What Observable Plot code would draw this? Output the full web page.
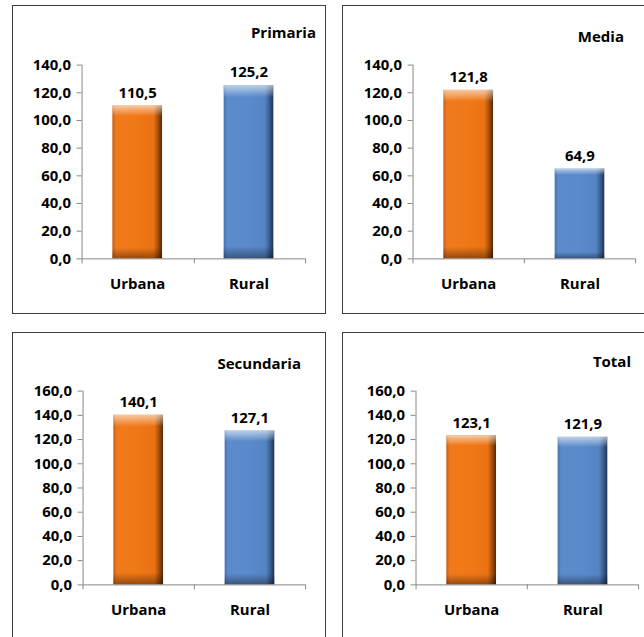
<!DOCTYPE html>
<html>
<head>
<meta charset="utf-8">
<script src="https://cdn.jsdelivr.net/npm/d3@7"></script>
<script src="https://cdn.jsdelivr.net/npm/@observablehq/plot@0.6"></script>
<style>
  html, body { margin: 0; padding: 0; background: #fff; }
  body { width: 644px; height: 637px; overflow: hidden; position: relative; font-family: "Open Sans", sans-serif; }
  .panel { position: absolute; box-sizing: border-box; border: 1px solid #3c3c3c; background: #fff; width: 314px; height: 309px; overflow: visible; }
  .panel svg.plot { position: absolute; left: -1px; top: -1px; }
  .title { position: absolute; font-weight: 700; font-size: 15px; line-height: 20px; color: #000; white-space: nowrap; }
</style>
</head>
<body>
<svg width="0" height="0" style="position:absolute">
  <defs>
    <linearGradient id="gO" x1="0" y1="0" x2="1" y2="0">
      <stop offset="0" stop-color="#c65e10"/>
      <stop offset="0.07" stop-color="#f07a1c"/>
      <stop offset="0.5" stop-color="#f07716"/>
      <stop offset="0.83" stop-color="#ea7212"/>
      <stop offset="0.92" stop-color="#a44e0b"/>
      <stop offset="1" stop-color="#552805"/>
    </linearGradient>
    <linearGradient id="gB" x1="0" y1="0" x2="1" y2="0">
      <stop offset="0" stop-color="#4674b0"/>
      <stop offset="0.07" stop-color="#5b8bcb"/>
      <stop offset="0.5" stop-color="#5a8acb"/>
      <stop offset="0.83" stop-color="#5584c3"/>
      <stop offset="0.92" stop-color="#3a5e8f"/>
      <stop offset="1" stop-color="#1d3253"/>
    </linearGradient>
    <linearGradient id="gV" x1="0" y1="0" x2="0" y2="1">
      <stop offset="0" stop-color="#ffffff" stop-opacity="0.6"/>
      <stop offset="0.035" stop-color="#ffffff" stop-opacity="0.3"/>
      <stop offset="0.07" stop-color="#ffffff" stop-opacity="0"/>
      <stop offset="0.93" stop-color="#000000" stop-opacity="0"/>
      <stop offset="1" stop-color="#000000" stop-opacity="0.38"/>
    </linearGradient>
  </defs>
</svg>
<script>
// ---- data ----
const panelTitles = ["Primaria", "Media", "Secundaria", "Total"];
const categories = ["Urbana", "Rural"];
const urbanaValues = [110.5, 121.8, 140.1, 123.1];
const ruralValues = [125.2, 64.9, 127.1, 121.9];
const yMaxValues = [140, 140, 160, 160];
const yTickStep = 20;

// ---- layout (positions only) ----
const layout = [
  {left: 12,  top: 5,   ml: 70, mr: 19, mt: 60, mb: 54, titleRight: 9,  titleTop: 16},
  {left: 342, top: 5,   ml: 71, mr: 19, mt: 60, mb: 54, titleRight: 31, titleTop: 20},
  {left: 12,  top: 332, ml: 71, mr: 19, mt: 59, mb: 55, titleRight: 24, titleTop: 20},
  {left: 342, top: 332, ml: 74, mr: 16, mt: 59, mb: 55, titleRight: 24, titleTop: 18}
];

const fmt = v => v.toFixed(1).replace(".", ",");
const FONT = '"Open Sans", sans-serif';
const AXIS = "#868686";

panelTitles.forEach((title, i) => {
  const L = layout[i];
  const data = categories.map((c, j) => ({cat: c, value: j === 0 ? urbanaValues[i] : ruralValues[i]}));
  const div = document.createElement("div");
  div.className = "panel";
  div.style.left = L.left + "px";
  div.style.top = L.top + "px";
  document.body.appendChild(div);

  const chart = Plot.plot({
    width: 314,
    height: 309,
    marginLeft: L.ml, marginRight: L.mr, marginTop: L.mt, marginBottom: L.mb,
    style: {fontFamily: FONT, fontSize: "15px", fontWeight: "700", color: "#000", background: "transparent", overflow: "visible"},
    x: {domain: categories, paddingInner: 0.55, paddingOuter: 0.275, axis: null},
    y: {domain: [0, yMaxValues[i]], axis: null},
    color: {domain: categories, range: ["url(#gO)", "url(#gB)"]},
    marks: [
      Plot.axisY({ticks: d3.range(0, yMaxValues[i] + 1, yTickStep), tickFormat: fmt, tickSize: 5, tickPadding: 6, stroke: AXIS, fill: "#000", fontSize: 15, fontWeight: 700, label: null}),
      Plot.axisX({tickSize: 0, tickPadding: 20, fill: "#000", fontSize: 15, fontWeight: 700, label: null}),
      Plot.barY(data, {x: "cat", y: "value", fill: "cat"}),
      Plot.barY(data, {x: "cat", y: "value", fill: "url(#gV)"}),
      Plot.ruleY([0], {stroke: AXIS}),
      Plot.text(data, {x: "cat", y: "value", text: d => fmt(d.value), dy: -13, fontSize: 15, fontWeight: 700, fill: "#000"})
    ]
  });
  chart.classList.add("plot");
  div.appendChild(chart);

  // axis line and category boundary ticks derived from the scales
  const sx = chart.scale("x"), sy = chart.scale("y");
  const [a, b] = sx.range;
  const [y0, y1] = sy.range;
  const s = d3.select(chart);
  s.append("line").attr("x1", a + 0.5).attr("x2", a + 0.5).attr("y1", y0).attr("y2", y1).attr("stroke", AXIS);
  const n = sx.domain.length;
  for (let k = 0; k <= n; k++) {
    const xx = Math.round(a + k * (b - a) / n) + 0.5;
    s.append("line").attr("x1", xx).attr("x2", xx).attr("y1", y0).attr("y2", y0 + 5).attr("stroke", AXIS);
  }

  const t = document.createElement("div");
  t.className = "title";
  t.textContent = title;
  t.style.right = L.titleRight + "px";
  t.style.top = L.titleTop + "px";
  div.appendChild(t);
});
</script>
</body>
</html>
